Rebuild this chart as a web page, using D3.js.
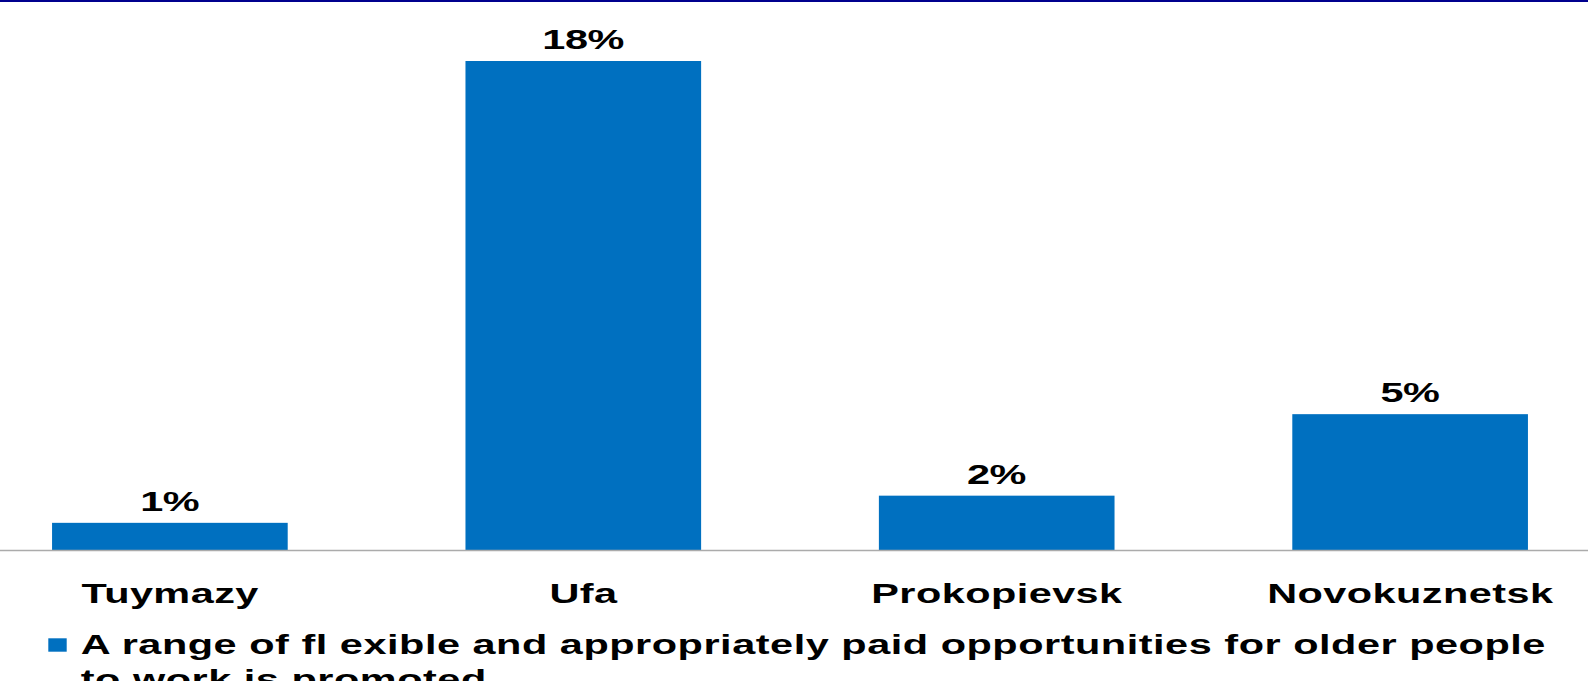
<!DOCTYPE html>
<html>
<head>
<meta charset="utf-8">
<script src="https://cdn.jsdelivr.net/npm/d3@7"></script>
<style>
  html, body { margin: 0; padding: 0; background: #ffffff; overflow: hidden; }
  svg { display: block; }
  text { font-family: "Liberation Sans", Arial, sans-serif; font-weight: bold; fill: #000; }
</style>
</head>
<body>
<svg id="chart" width="1588" height="681"></svg>
<script>
// Share of respondents per city
const categories = ["Tuymazy", "Ufa", "Prokopievsk", "Novokuznetsk"];
const values = [1, 18, 2, 5];
const seriesName = "A range of fl exible and appropriately paid opportunities for older people";
const seriesNameLine2 = "to work is promoted";

const W = 1588, H = 681;
const svg = d3.select("#chart");

const barColor = "#0070C0";
const xStretch = 1.48;

// thin navy rule along the top edge
svg.append("rect").attr("x", 0).attr("y", 0).attr("width", W).attr("height", 2).attr("fill", "#00008E");

const x = d3.scaleBand()
  .domain(categories)
  .range([-4, 1584])
  .paddingInner(0.43)
  .paddingOuter(0.1356);

const y = d3.scaleLinear()
  .domain([0, 18])
  .range([550, 61]);

// bars
svg.append("g").selectAll("rect")
  .data(categories)
  .join("rect")
  .attr("x", (d) => x(d))
  .attr("y", (d, i) => y(values[i]))
  .attr("width", x.bandwidth())
  .attr("height", (d, i) => y(0) - y(values[i]))
  .attr("fill", barColor);

// baseline axis
const axis = svg.append("g").attr("transform", `translate(0,${y(0)})`)
  .call(d3.axisBottom(x).tickSize(0).tickFormat(""));
axis.select(".domain").attr("d", `M0,0.5H${W}`).attr("stroke", "#ababab").attr("stroke-width", 1.4);

// horizontally widened bold text
function wideText(g, str, tx, ty, size, spacing, anchor) {
  const shift = anchor === "middle" ? spacing / 2 : 0;
  g.append("text")
    .attr("transform", `translate(${tx},${ty}) scale(${xStretch},1)`)
    .attr("x", shift)
    .attr("text-anchor", anchor)
    .attr("font-size", size)
    .attr("letter-spacing", spacing)
    .text(str);
}

// value labels
const labels = svg.append("g");
categories.forEach((c, i) => {
  wideText(labels, values[i] + "%", x(c) + x.bandwidth() / 2, y(values[i]) - 12, 28, -0.3, "middle");
});

// category labels
const cats = svg.append("g");
categories.forEach((c) => {
  wideText(cats, c, x(c) + x.bandwidth() / 2, 603, 28, 0.3, "middle");
});

// legend
const legend = svg.append("g");
legend.append("rect").attr("x", 48.3).attr("y", 638.3).attr("width", 18.4).attr("height", 13.4).attr("fill", barColor);
wideText(legend, seriesName, 80.7, 654.3, 28, 0.36, "start");
wideText(legend, seriesNameLine2, 80.7, 688.5, 28, 0.36, "start");
</script>
</body>
</html>
